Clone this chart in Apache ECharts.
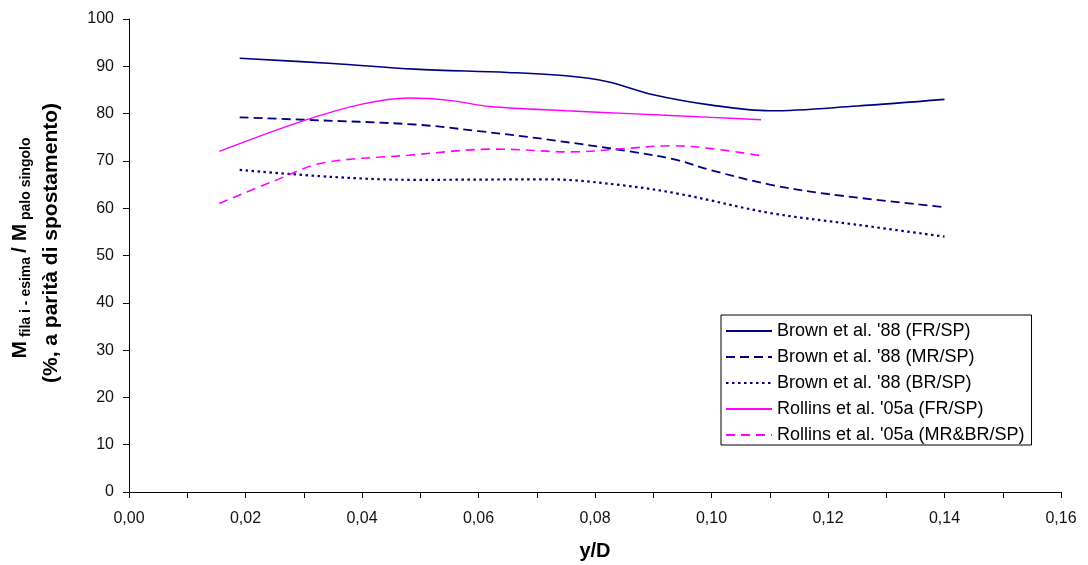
<!DOCTYPE html>
<html>
<head>
<meta charset="utf-8">
<script src="https://cdn.jsdelivr.net/npm/echarts@6/dist/echarts.min.js"></script>
<style>
  html, body { margin: 0; padding: 0; background: #fff; }
  #chart { width: 1088px; height: 565px; }
</style>
</head>
<body>
<div id="chart"></div>
<script>
// Moment ratios (row i / single pile, %) against normalized displacement y/D
const seriesNames = [
  "Brown et al. '88 (FR/SP)",
  "Brown et al. '88 (MR/SP)",
  "Brown et al. '88 (BR/SP)",
  "Rollins et al. '05a (FR/SP)",
  "Rollins et al. '05a (MR&BR/SP)"
];

const brownFR = [[0.019, 91.7], [0.035, 90.6], [0.049, 89.4], [0.065, 88.7], [0.075, 88.0],
  [0.082, 86.8], [0.09, 84.0], [0.1, 81.8], [0.11, 80.6], [0.125, 81.6], [0.14, 83.0]];
const brownMR = [[0.019, 79.2], [0.03, 78.7], [0.049, 77.7], [0.06, 76.3], [0.072, 74.5],
  [0.086, 72.0], [0.094, 70.2], [0.1, 68.0], [0.11, 65.0], [0.12, 63.0], [0.14, 60.2]];
const brownBR = [[0.019, 68.1], [0.035, 66.6], [0.049, 66.0], [0.072, 66.1], [0.085, 64.8],
  [0.095, 62.9], [0.11, 59.0], [0.125, 56.5], [0.14, 54.0]];
const rollinsFR = [[0.0155, 72.0], [0.03, 78.5], [0.04, 82.0], [0.048, 83.3], [0.055, 82.8],
  [0.062, 81.5], [0.075, 80.6], [0.086, 80.0], [0.1, 79.2], [0.1085, 78.7]];
const rollinsMRBR = [[0.0155, 61.0], [0.025, 65.8], [0.033, 69.5], [0.048, 71.2], [0.063, 72.5],
  [0.076, 71.9], [0.085, 72.6], [0.093, 73.2], [0.1, 72.6], [0.1085, 71.1]];

const xTickStep = 0.01;
const yTickStep = 10;

const NAVY = '#000080';
const MAGENTA = '#FF00FF';
const FONT = 'Liberation Sans, Arial, sans-serif';

function lineSeries(name, data, color, type, width) {
  return {
    name: name,
    type: 'line',
    data: data,
    smooth: 0.35,
    showSymbol: false,
    symbol: 'none',
    lineStyle: { color: color, width: width, type: type },
    itemStyle: { color: color },
    emphasis: { disabled: true }
  };
}

const chart = echarts.init(document.getElementById('chart'), null, { renderer: 'canvas' });

chart.setOption({
  animation: false,
  backgroundColor: '#fff',
  grid: { left: 129, right: 27, top: 19, bottom: 73, containLabel: false, outerBoundsMode: 'none' },
  xAxis: {
    type: 'value',
    min: 0,
    max: 0.16,
    interval: xTickStep,
    name: 'y/D',
    nameLocation: 'middle',
    nameGap: 49,
    nameTextStyle: { fontFamily: FONT, fontSize: 20, fontWeight: 'bold', color: '#000' },
    axisLine: { show: true, lineStyle: { color: '#000', width: 1 } },
    axisTick: { show: true, inside: false, length: 6, lineStyle: { color: '#000' } },
    axisLabel: {
      fontFamily: FONT, fontSize: 16, color: '#111', margin: 19,
      formatter: function (v) {
        return Math.round(v * 100) % 2 === 0 ? v.toFixed(2).replace('.', ',') : '';
      }
    },
    splitLine: { show: false }
  },
  yAxis: {
    type: 'value',
    min: 0,
    max: 100,
    interval: yTickStep,
    axisLine: { show: true, lineStyle: { color: '#000', width: 1 } },
    axisTick: { show: true, inside: false, length: 6, lineStyle: { color: '#000' } },
    axisLabel: { fontFamily: FONT, fontSize: 16, color: '#111', margin: 15 },
    splitLine: { show: false }
  },
  legend: {
    orient: 'vertical',
    left: 721,
    top: 315,
    padding: [7, 7, 1, 4],
    itemGap: 8,
    itemWidth: 46,
    itemHeight: 14,
    borderColor: '#000',
    borderWidth: 1,
    backgroundColor: '#fff',
    itemStyle: { opacity: 0, borderWidth: 0 },
    textStyle: { fontFamily: FONT, fontSize: 18, color: '#000' },
    data: seriesNames
  },
  graphic: [
    {
      type: 'text',
      x: 20,
      y: 248,
      rotation: Math.PI / 2,
      style: {
        text: '{b|M}{s| fila i - esima }{b|/ M}{s| palo singolo}',
        align: 'center',
        verticalAlign: 'middle',
        rich: {
          b: { fontFamily: FONT, fontSize: 21, fontWeight: 'bold', fill: '#000', lineHeight: 26, verticalAlign: 'middle' },
          s: { fontFamily: FONT, fontSize: 14, fontWeight: 'bold', fill: '#000', lineHeight: 26, verticalAlign: 'bottom' }
        }
      }
    },
    {
      type: 'text',
      x: 51,
      y: 243,
      rotation: Math.PI / 2,
      style: {
        text: '(%, a parità di spostamento)',
        font: 'bold 21px ' + FONT,
        fill: '#000',
        align: 'center',
        verticalAlign: 'middle'
      }
    }
  ],
  series: [
    lineSeries(seriesNames[0], brownFR, NAVY, 'solid', 1.6),
    lineSeries(seriesNames[1], brownMR, NAVY, [9, 5], 1.8),
    lineSeries(seriesNames[2], brownBR, NAVY, [2.5, 3.5], 2.2),
    lineSeries(seriesNames[3], rollinsFR, MAGENTA, 'solid', 1.4),
    lineSeries(seriesNames[4], rollinsMRBR, MAGENTA, [9, 6], 1.6)
  ]
});
</script>
</body>
</html>
